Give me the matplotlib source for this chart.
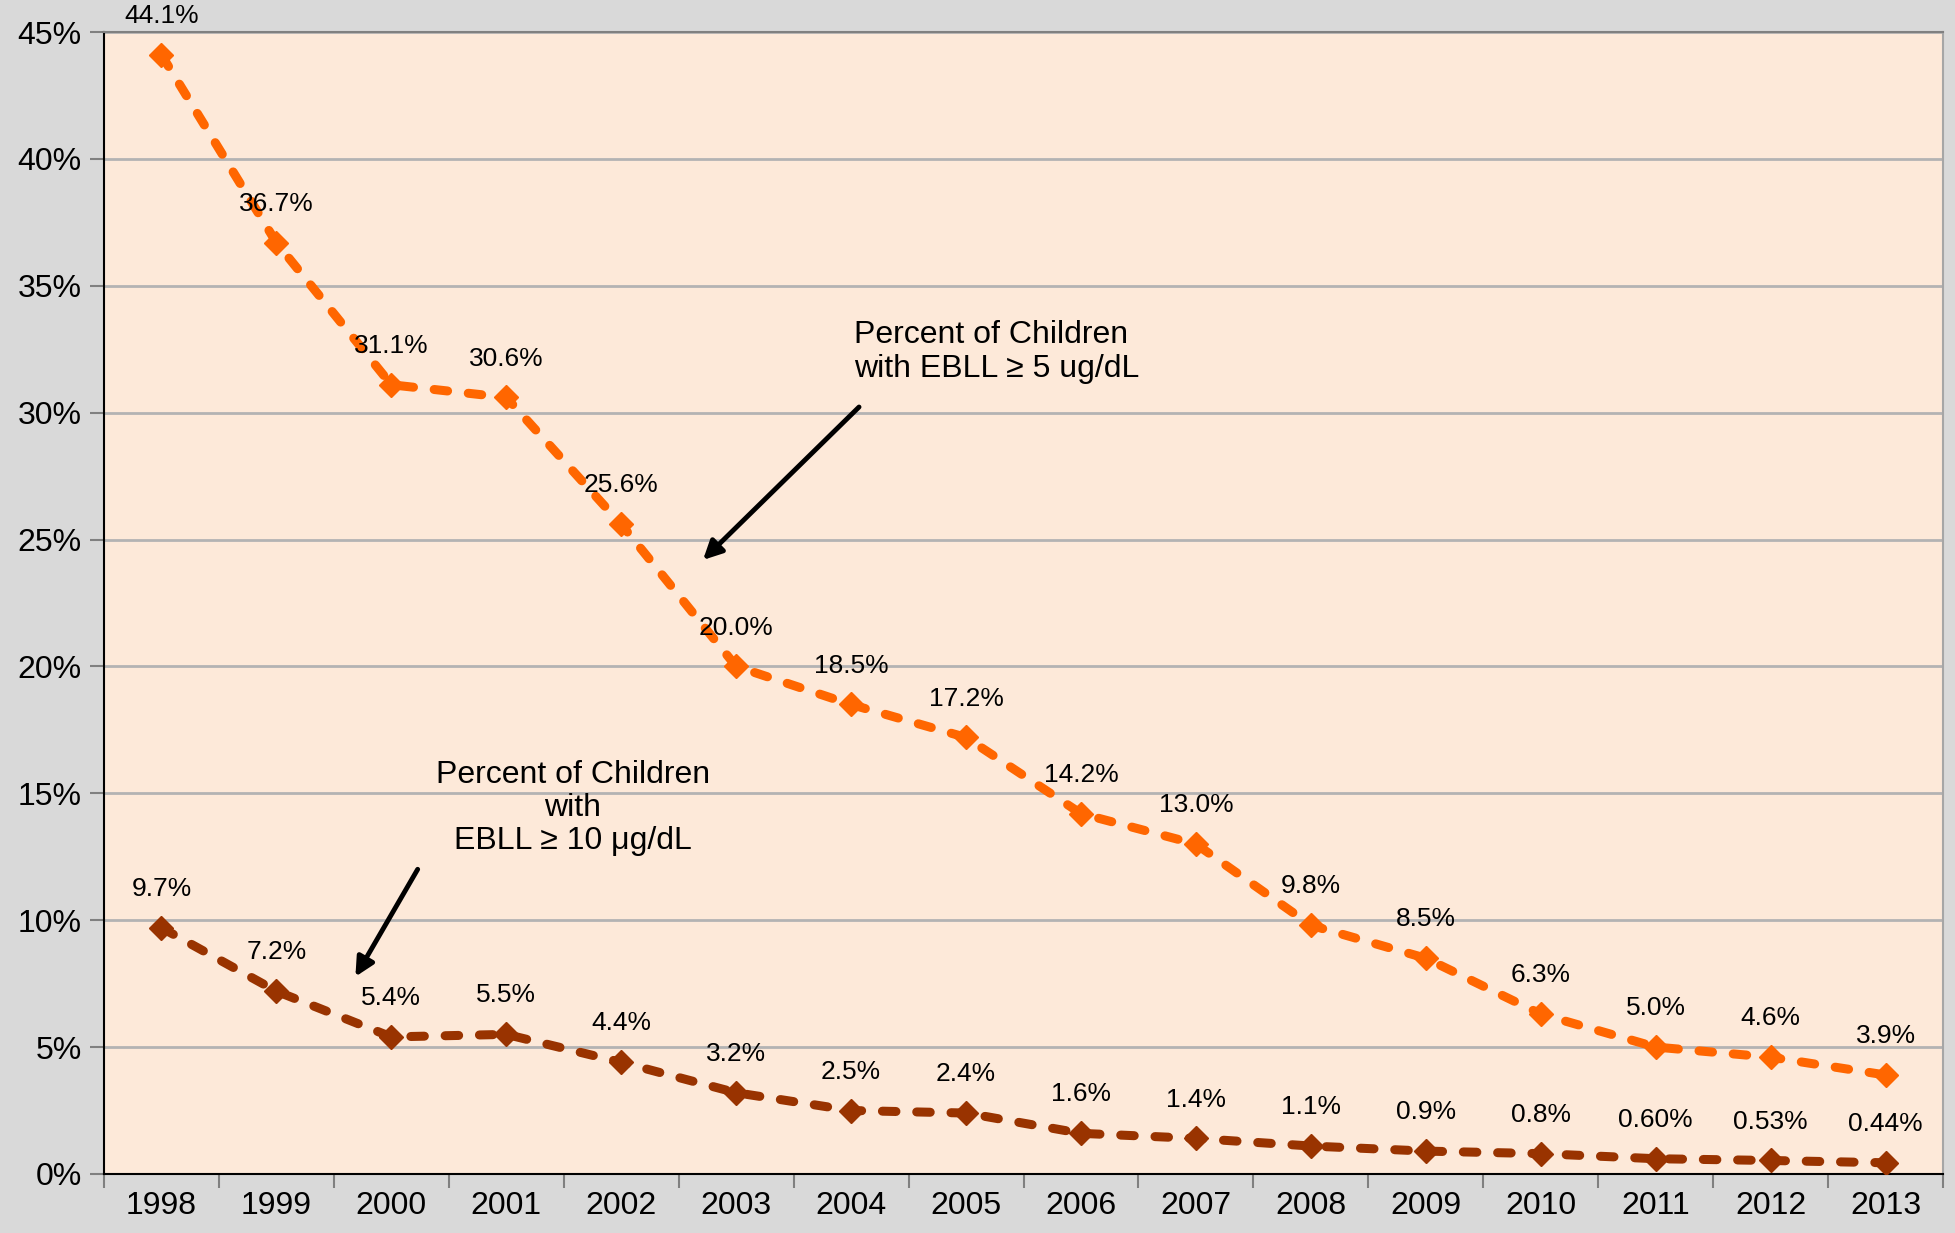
import matplotlib
matplotlib.use("Agg")
import matplotlib.pyplot as plt
from matplotlib.ticker import FixedLocator, FuncFormatter

plt.rcParams['font.family'] = ['Liberation Sans', 'DejaVu Sans']

years = ['1998', '1999', '2000', '2001', '2002', '2003', '2004', '2005',
         '2006', '2007', '2008', '2009', '2010', '2011', '2012', '2013']
ebll5 = [44.1, 36.7, 31.1, 30.6, 25.6, 20.0, 18.5, 17.2, 14.2, 13.0, 9.8, 8.5, 6.3, 5.0, 4.6, 3.9]
ebll5_labels = ['44.1%', '36.7%', '31.1%', '30.6%', '25.6%', '20.0%', '18.5%', '17.2%',
                '14.2%', '13.0%', '9.8%', '8.5%', '6.3%', '5.0%', '4.6%', '3.9%']
ebll10 = [9.7, 7.2, 5.4, 5.5, 4.4, 3.2, 2.5, 2.4, 1.6, 1.4, 1.1, 0.9, 0.8, 0.60, 0.53, 0.44]
ebll10_labels = ['9.7%', '7.2%', '5.4%', '5.5%', '4.4%', '3.2%', '2.5%', '2.4%',
                 '1.6%', '1.4%', '1.1%', '0.9%', '0.8%', '0.60%', '0.53%', '0.44%']
yticks = [0, 5, 10, 15, 20, 25, 30, 35, 40, 45]

fig = plt.figure(figsize=(19.55, 12.33), dpi=100, facecolor='#D9D9D9')
ax = fig.add_axes([0.0532, 0.0479, 0.9407, 0.9261])
ax.set_facecolor('#FDE9D9')

x = list(range(len(years)))
for vals, labs, col in [(ebll5, ebll5_labels, '#FF6600'), (ebll10, ebll10_labels, '#993300')]:
    ax.plot(x, vals, color=col, lw=6.5, dashes=(1.5, 2.3), dash_capstyle='round',
            marker='D', markersize=12, markerfacecolor=col, markeredgecolor=col, zorder=3)
    for xi, v, lab in zip(x, vals, labs):
        ax.annotate(lab, (xi, v), xytext=(0, 28), textcoords='offset points',
                    ha='center', va='center', fontsize=19, color='black', zorder=4)

ax.set_xlim(-0.5, len(years) - 0.5)
ax.set_ylim(0, 45)
ax.yaxis.set_major_locator(FixedLocator(yticks))
ax.yaxis.set_major_formatter(FuncFormatter(lambda v, p: f'{int(v)}%'))
ax.grid(axis='y', color='#B3B3B3', lw=2, zorder=1)
ax.set_axisbelow(True)

ax.set_xticks([i - 0.5 for i in range(len(years) + 1)])
ax.set_xticklabels([])
ax.set_xticks(x, minor=True)
ax.set_xticklabels(years, minor=True)
ax.tick_params(axis='x', which='major', length=10, width=1.5, color='#808080', direction='out')
ax.tick_params(axis='x', which='minor', length=0, labelsize=23, pad=12)
ax.tick_params(axis='y', length=10, width=1.5, color='#808080', labelsize=23, pad=6)

ax.spines['left'].set_color('black')
ax.spines['left'].set_linewidth(1.5)
ax.spines['bottom'].set_color('black')
ax.spines['bottom'].set_linewidth(1.5)
ax.spines['right'].set_color('#A6A6A6')
ax.spines['right'].set_linewidth(1.5)
ax.spines['top'].set_color('#808080')
ax.spines['top'].set_linewidth(1.5)

ax.text(6.025, 32.39, 'Percent of Children\nwith EBLL \u2265 5 ug/dL', ha='left', va='center',
        fontsize=23, linespacing=1.15)
ax.annotate('', xy=(4.694, 24.12), xytext=(6.086, 30.30),
            arrowprops=dict(arrowstyle='-|>', color='black', lw=3.5, mutation_scale=28))

ax.text(3.58, 14.42, 'Percent of Children\nwith\nEBLL \u2265 10 \u03bcg/dL', ha='center', va='center',
        fontsize=23, linespacing=1.15)
ax.annotate('', xy=(1.675, 7.68), xytext=(2.241, 12.10),
            arrowprops=dict(arrowstyle='-|>', color='black', lw=3.5, mutation_scale=28))

fig.savefig('out.png', dpi=100, facecolor=fig.get_facecolor())
